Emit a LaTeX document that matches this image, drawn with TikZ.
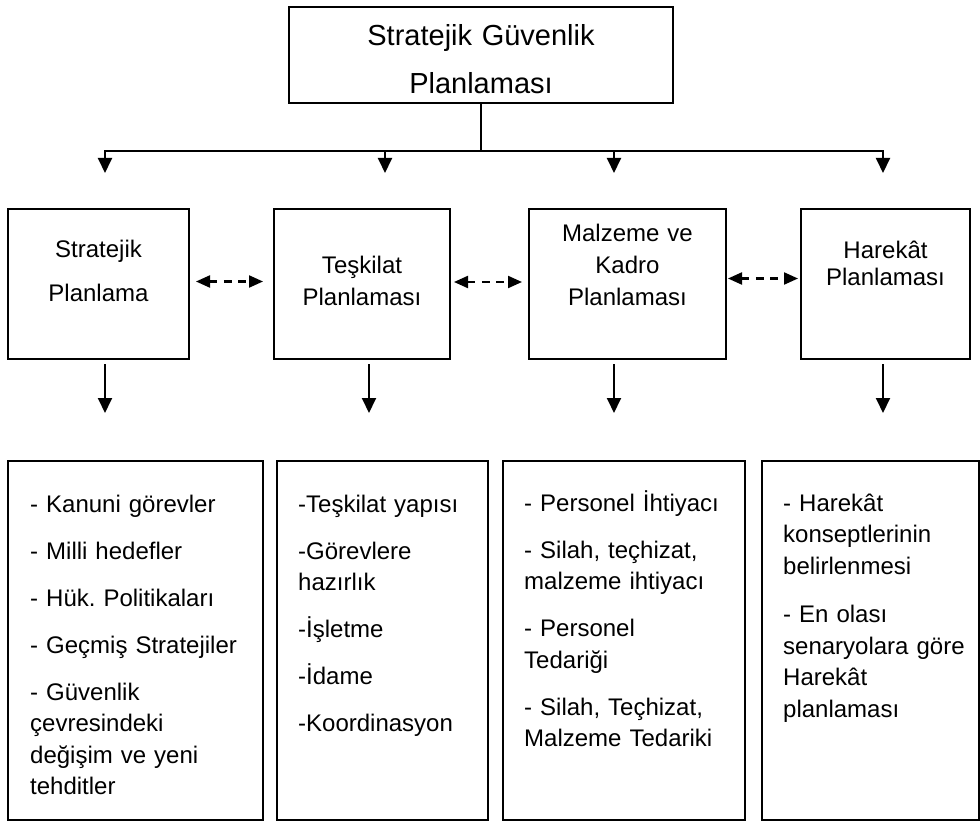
\documentclass[tikz,border=0pt]{standalone}
\usepackage{fontspec}
\setmainfont{Liberation Sans}
\usetikzlibrary{arrows.meta}
\frenchspacing
\begin{document}
\begin{tikzpicture}[x=1pt,y=-1pt,
  box/.style={draw, line width=1.9pt, inner sep=0pt, outer sep=0pt, anchor=north west},
  ttxt/.style={inner sep=0pt, anchor=base, align=center, text width=380pt, font=\fontsize{29}{29}\selectfont},
  mtxt/.style={inner sep=0pt, anchor=base, align=center, text width=170pt, font=\fontsize{24}{32}\selectfont},
  btxt/.style={inner sep=0pt, anchor=base west, align=left, text width=230pt, font=\fontsize{24}{31.5}\selectfont},
  conn/.style={line width=1.9pt, line join=miter},
  dtip/.style={-{Triangle[width=14pt,length=15pt]}},
  dashedarr/.style={line width=2.1pt, dash pattern=on 8pt off 6.5pt,
     {Triangle[width=12pt,length=14pt]}-{Triangle[width=12pt,length=14pt]}}
]
\useasboundingbox (0,0) rectangle (980,821);

% top box
\node[box, minimum width=384pt, minimum height=96pt] (top) at (289,7) {};
\node[ttxt] (toptext) at (481,46) {Stratejik Güvenlik\\[19pt]Planlaması};

% middle boxes
\node[box, minimum width=181pt, minimum height=150pt] (m1) at (8,209) {};
\node[box, minimum width=176pt, minimum height=150pt] (m2) at (274,209) {};
\node[box, minimum width=197pt, minimum height=150pt] (m3) at (529,209) {};
\node[box, minimum width=169pt, minimum height=150pt] (m4) at (801,209) {};

\node[mtxt] (m1t) at (98.5,258) {Stratejik\\[12pt]Planlama};
\node[mtxt] (m2t) at (362,273) {Teşkilat\\Planlaması};
\node[mtxt] (m3t) at (627.5,242) {Malzeme ve\\Kadro\\Planlaması};
\node[mtxt] (m4t) at (885.5,258.5) {Harekât\\[-5pt]Planlaması};

% bottom boxes
\node[box, minimum width=255pt, minimum height=359pt] (b1) at (8,461) {};
\node[box, minimum width=211pt, minimum height=359pt] (b2) at (277,461) {};
\node[box, minimum width=242pt, minimum height=359pt] (b3) at (503,461) {};
\node[box, minimum width=217pt, minimum height=359pt] (b4) at (762,461) {};

\node[btxt] (b1t) at (30,512) {- Kanuni görevler\\[15.5pt]- Milli hedefler\\[15.5pt]- Hük. Politikaları\\[15.5pt]- Geçmiş Stratejiler\\[15.5pt]- Güvenlik\\çevresindeki\\değişim ve yeni\\tehditler};
\node[btxt] (b2t) at (298,512) {-Teşkilat yapısı\\[15.5pt]-Görevlere\\hazırlık\\[15.5pt]-İşletme\\[15.5pt]-İdame\\[15.5pt]-Koordinasyon};
\node[btxt] (b3t) at (524,511) {- Personel İhtiyacı\\[15.5pt]- Silah, teçhizat,\\malzeme ihtiyacı\\[15.5pt]- Personel\\Tedariği\\[15.5pt]- Silah, Teçhizat,\\Malzeme Tedariki};
\node[btxt] (b4t) at (783,511) {- Harekât\\konseptlerinin\\belirlenmesi\\[17pt]- En olası\\senaryolara göre\\Harekât\\planlaması};

% distribution connectors
\coordinate (j) at (481,151);
\coordinate (h1) at (105,151);
\coordinate (h2) at (385,151);
\coordinate (h3) at (614,151);
\coordinate (h4) at (883,151);
\coordinate (a1) at (105,173);
\coordinate (a2) at (385,173);
\coordinate (a3) at (614,173);
\coordinate (a4) at (883,173);
\draw[conn] (top.south) -- (j);
\draw[conn, {Triangle[width=14pt,length=15pt]}-{Triangle[width=14pt,length=15pt]}] (a1) -- (h1) -- (h4) -- (a4);
\draw[conn, dtip] (h2) -- (a2);
\draw[conn, dtip] (h3) -- (a3);

% dashed double arrows
\coordinate (l1a) at (196,281.5);
\coordinate (l1b) at (263,281.5);
\coordinate (l2a) at (454,282);
\coordinate (l2b) at (522,282);
\coordinate (l3a) at (728,278.5);
\coordinate (l3b) at (798,278.5);
\draw[dashedarr] (l1a) -- (l1b);
\draw[dashedarr] (l2a) -- (l2b);
\draw[dashedarr] (l3a) -- (l3b);

% down arrows
\coordinate (d1s) at (105,364);
\coordinate (d1e) at (105,413);
\coordinate (d2s) at (369,364);
\coordinate (d2e) at (369,413);
\coordinate (d3s) at (614,364);
\coordinate (d3e) at (614,413);
\coordinate (d4s) at (883,364);
\coordinate (d4e) at (883,413);
\draw[conn, dtip] (d1s) -- (d1e);
\draw[conn, dtip] (d2s) -- (d2e);
\draw[conn, dtip] (d3s) -- (d3e);
\draw[conn, dtip] (d4s) -- (d4e);
\end{tikzpicture}
\end{document}
